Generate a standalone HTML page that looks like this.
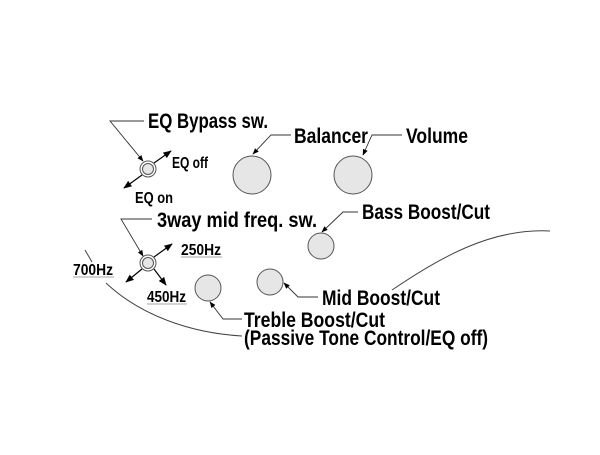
<!DOCTYPE html>
<html><head><style>
body{margin:0;background:#fff;}
svg text{font-family:"Liberation Sans Narrow","Liberation Sans",sans-serif;font-weight:bold;fill:#000;}
</style></head><body>
<svg width="600" height="450" viewBox="0 0 600 450" xmlns="http://www.w3.org/2000/svg">
<defs><marker id="a" viewBox="0 0 10 10" refX="9" refY="5" markerWidth="7" markerHeight="7" orient="auto"><path d="M0,1 L10,5 L0,9 z" fill="#000"/></marker></defs>
<g fill="none" stroke="#444" stroke-width="1">
<path d="M392,290 C440,258 490,228 550,231"/>
<path d="M85,250 L92,262"/>
<path d="M106,283 C140,315 190,333 242,336"/>
</g>
<g fill="#e6e6e6" stroke="#555" stroke-width="1">
<circle cx="252" cy="175" r="19"/>
<circle cx="353" cy="175" r="19"/>
<circle cx="321" cy="246" r="13"/>
<circle cx="270" cy="282" r="13"/>
<circle cx="208" cy="288" r="13"/>
<circle cx="148" cy="169" r="8" fill="#fff"/><circle cx="148" cy="169" r="5.5"/>
<circle cx="148" cy="263" r="8" fill="#fff"/><circle cx="148" cy="263" r="5.5"/>
</g>
<g fill="none" stroke="#333" stroke-width="0.9" marker-end="url(#a)">
<path d="M144,121 L110,121 L143,161"/>
<path d="M152,219 L121,219 L143,256"/>
<path d="M291,135 L271,135 L253,154"/>
<path d="M402,135 L372,135 L363,155"/>
<path d="M358,212 L343,212 L322,232"/>
<path d="M318,297 L298,297 L284,283"/>
<path d="M242,319 L223,319 L210,302"/>
</g>
<g stroke="#000" stroke-width="1.2" marker-end="url(#a)">
<line x1="154" y1="163" x2="171" y2="151"/>
<line x1="142" y1="175" x2="124" y2="188"/>
<line x1="154" y1="257" x2="172" y2="244"/>
<line x1="142" y1="269" x2="126" y2="282"/>
<line x1="154" y1="269" x2="166" y2="285"/>
</g>
<g stroke="#888" stroke-width="0.8">
<line x1="181" y1="257" x2="222" y2="257"/>
<line x1="73" y1="277" x2="114" y2="277"/>
<line x1="147" y1="304" x2="187" y2="304"/>
</g>
<text x="148" y="128" font-size="21" textLength="120" lengthAdjust="spacingAndGlyphs">EQ Bypass sw.</text>
<text x="294" y="143" font-size="21" textLength="74" lengthAdjust="spacingAndGlyphs">Balancer</text>
<text x="406" y="143" font-size="21" textLength="62" lengthAdjust="spacingAndGlyphs">Volume</text>
<text x="362" y="219" font-size="21" textLength="128" lengthAdjust="spacingAndGlyphs">Bass Boost/Cut</text>
<text x="157" y="227" font-size="21" textLength="160" lengthAdjust="spacingAndGlyphs">3way mid freq. sw.</text>
<text x="172" y="168" font-size="16" textLength="36" lengthAdjust="spacingAndGlyphs">EQ off</text>
<text x="135" y="203" font-size="16" textLength="38" lengthAdjust="spacingAndGlyphs">EQ on</text>
<text x="181" y="255" font-size="16" textLength="40" lengthAdjust="spacingAndGlyphs">250Hz</text>
<text x="73" y="275" font-size="16" textLength="40" lengthAdjust="spacingAndGlyphs">700Hz</text>
<text x="147" y="302" font-size="16" textLength="39" lengthAdjust="spacingAndGlyphs">450Hz</text>
<text x="322" y="305" font-size="21" textLength="118" lengthAdjust="spacingAndGlyphs">Mid Boost/Cut</text>
<text x="244" y="327" font-size="21" textLength="141" lengthAdjust="spacingAndGlyphs">Treble Boost/Cut</text>
<text x="244" y="345" font-size="21" textLength="244" lengthAdjust="spacingAndGlyphs">(Passive Tone Control/EQ off)</text>
</svg>
</body></html>
